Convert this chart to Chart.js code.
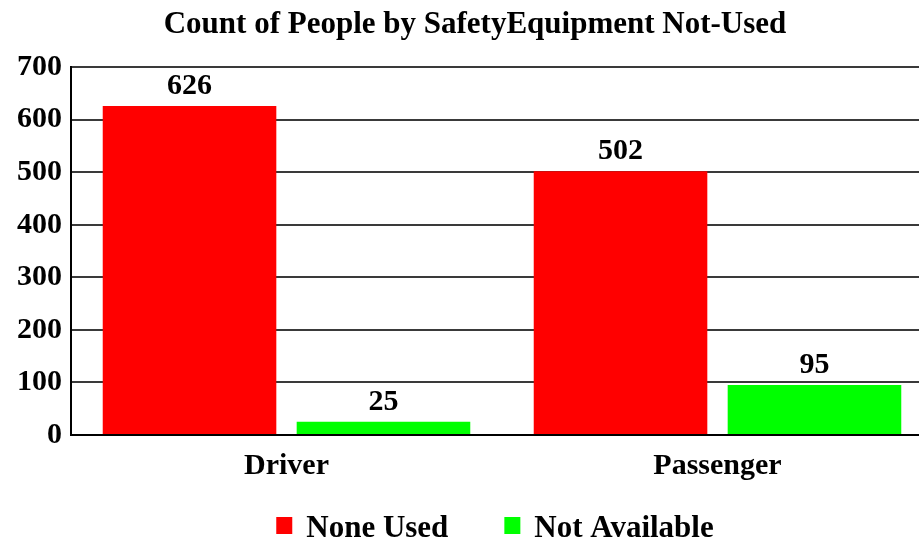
<!DOCTYPE html>
<html><head><meta charset="utf-8">
<script src="https://cdn.jsdelivr.net/npm/chart.js@4.4.1/dist/chart.umd.min.js"></script>
<style>
html,body{margin:0;padding:0;overflow:hidden;background:#fff;width:919px;height:544px}
#wrap{position:relative;width:940px;height:544px}
canvas{display:block}
</style></head><body>
<div id="wrap"><canvas id="c" width="940" height="544"></canvas></div>
<script>
const categories = ["Driver", "Passenger"];
const seriesNames = ["None Used", "Not Available"];
const noneUsed = [626, 502];
const notAvailable = [25, 95];
const seriesColors = ["#FF0000", "#00FF00"];
const yTicks = [0, 100, 200, 300, 400, 500, 600, 700];
const chartTitle = "Count of People by SafetyEquipment Not-Used";

const FONT = '"Liberation Serif", "Times New Roman", serif';

const valueLabels = {
  id: 'valueLabels',
  afterDatasetsDraw(chart) {
    const ctx = chart.ctx;
    ctx.save();
    ctx.font = 'bold 30px ' + FONT;
    ctx.fillStyle = '#000';
    ctx.textAlign = 'center';
    ctx.textBaseline = 'alphabetic';
    chart.data.datasets.forEach((ds, i) => {
      const meta = chart.getDatasetMeta(i);
      meta.data.forEach((el, j) => {
        ctx.fillText(String(ds.data[j]), el.x, el.y - 12);
      });
    });
    ctx.restore();
  }
};

const bottomLegend = {
  id: 'bottomLegend',
  afterDraw(chart) {
    const ctx = chart.ctx;
    ctx.save();
    ctx.font = 'bold 31px ' + FONT;
    ctx.textBaseline = 'alphabetic';
    ctx.textAlign = 'left';
    const boxW = 16, boxH = 17, gap = 14, itemGap = 56;
    const items = chart.data.datasets.map(d => ({text: d.label, color: d.backgroundColor, w: ctx.measureText(d.label).width}));
    let total = 0;
    items.forEach((it, i) => { total += boxW + gap + it.w + (i < items.length - 1 ? itemGap : 0); });
    const center = (chart.chartArea.left + chart.chartArea.right) / 2 - 7;
    let x = center - total / 2;
    const baseY = chart.height - 7;
    items.forEach(it => {
      ctx.fillStyle = it.color;
      ctx.fillRect(x, baseY - 20, boxW, boxH);
      ctx.fillStyle = '#000';
      ctx.fillText(it.text, x + boxW + gap, baseY);
      x += boxW + gap + it.w + itemGap;
    });
    ctx.restore();
  }
};

new Chart(document.getElementById('c'), {
  type: 'bar',
  data: {
    labels: categories,
    datasets: [
      { label: seriesNames[0], data: noneUsed, backgroundColor: seriesColors[0], categoryPercentage: 0.9, barPercentage: 0.895 },
      { label: seriesNames[1], data: notAvailable, backgroundColor: seriesColors[1], categoryPercentage: 0.9, barPercentage: 0.895 }
    ]
  },
  options: {
    responsive: false,
    animation: false,
    devicePixelRatio: 1,
    layout: { padding: { left: 17, right: 7, top: 0, bottom: 47 } },
    plugins: {
      title: {
        display: true, text: chartTitle, color: '#000',
        font: { family: FONT, size: 31, weight: 'bold' },
        padding: { top: 6, bottom: 24 }
      },
      legend: { display: false },
      tooltip: { enabled: false }
    },
    scales: {
      x: {
        grid: { display: false, drawTicks: false },
        border: { display: true, color: '#000', width: 2 },
        ticks: { color: '#000', font: { family: FONT, size: 30, weight: 'bold' }, padding: 13 }
      },
      y: {
        min: 0, max: 700,
        afterBuildTicks(scale) { scale.ticks = yTicks.map(v => ({ value: v })); },
        afterFit(scale) { scale.width = 54; },
        grid: { color: '#3a3a3a', lineWidth: 2, drawTicks: false },
        border: { display: true, color: '#000', width: 2 },
        ticks: { color: '#000', font: { family: FONT, size: 30, weight: 'bold' }, padding: 9 }
      }
    }
  },
  plugins: [valueLabels, bottomLegend]
});
</script>
</body></html>
